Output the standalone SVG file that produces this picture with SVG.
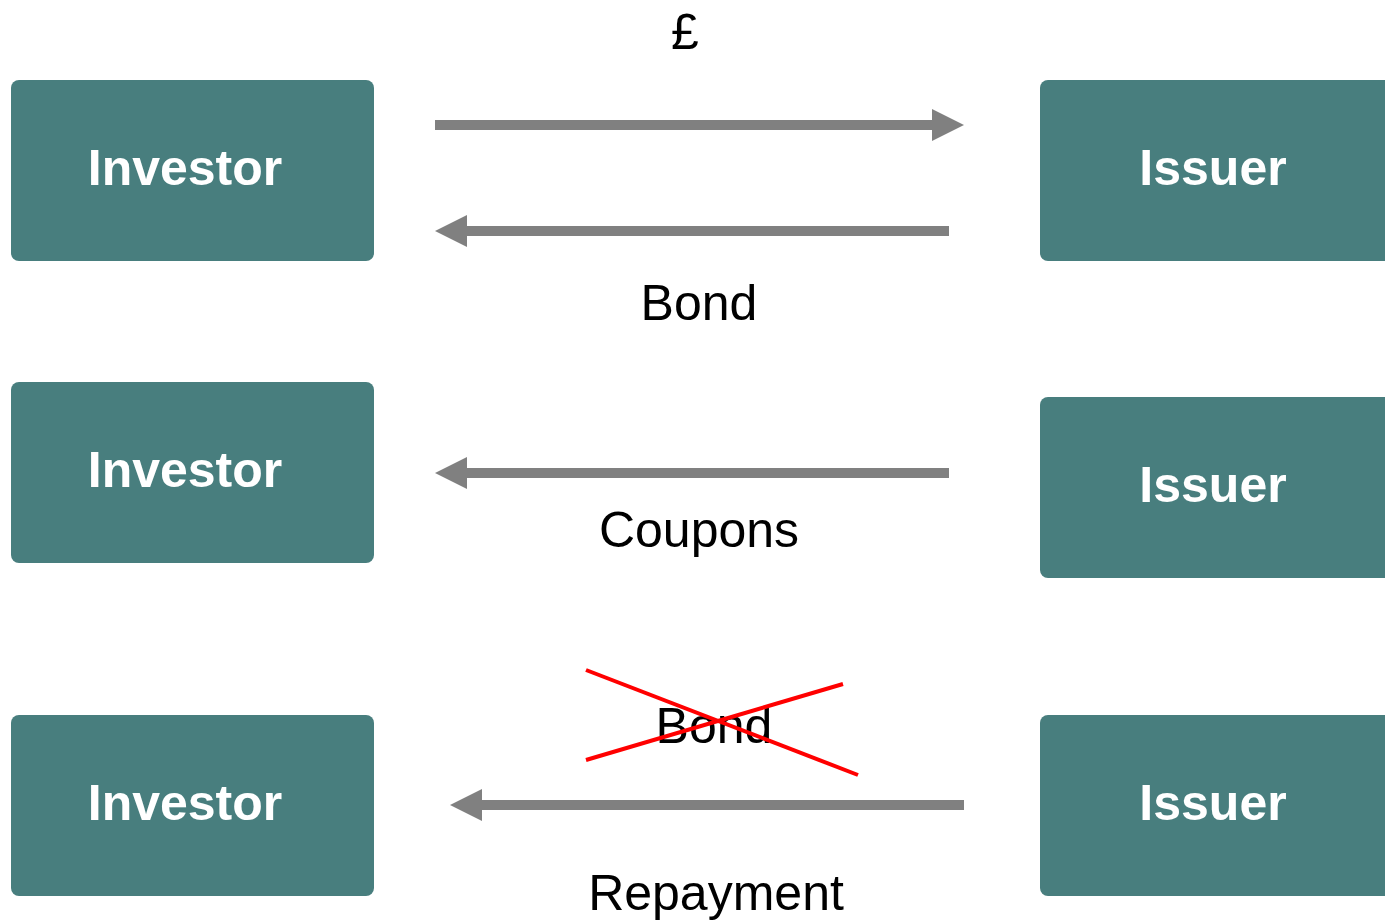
<svg xmlns="http://www.w3.org/2000/svg" width="1385" height="922" viewBox="0 0 1385 922">
<style>
.box{fill:#487e7e}
.nt{font-family:"Liberation Sans",Arial,sans-serif;font-weight:bold;font-size:50px;fill:#ffffff;text-anchor:middle}
.lb{font-family:"Liberation Sans",Arial,sans-serif;font-size:50px;fill:#000000;text-anchor:middle}
.ln{stroke:#808080;stroke-width:10;fill:none}
.hd{fill:#808080}
.x{stroke:#ff0000;stroke-width:4}
</style>
<rect width="1385" height="922" fill="#ffffff"/>
<g id="investor1"><rect class="box" x="11" y="80" width="363" height="181" rx="8"/><text class="nt" x="185" y="185">Investor</text></g>
<g id="issuer1"><rect class="box" x="1040" y="80" width="363" height="181" rx="8"/><text class="nt" x="1213" y="185">Issuer</text></g>
<g id="investor2"><rect class="box" x="11" y="382" width="363" height="181" rx="8"/><text class="nt" x="185" y="487">Investor</text></g>
<g id="issuer2"><rect class="box" x="1040" y="397" width="363" height="181" rx="8"/><text class="nt" x="1213" y="502">Issuer</text></g>
<g id="investor3"><rect class="box" x="11" y="715" width="363" height="181" rx="8"/><text class="nt" x="185" y="820">Investor</text></g>
<g id="issuer3"><rect class="box" x="1040" y="715" width="363" height="181" rx="8"/><text class="nt" x="1213" y="820">Issuer</text></g>
<g id="connectors">
<line class="ln" x1="435" y1="125" x2="934" y2="125"/><polygon class="hd" points="932,109 964,125 932,141"/>
<line class="ln" x1="949" y1="231" x2="465" y2="231"/><polygon class="hd" points="467,215 435,231 467,247"/>
<line class="ln" x1="949" y1="473" x2="465" y2="473"/><polygon class="hd" points="467,457 435,473 467,489"/>
<line class="ln" x1="964" y1="805" x2="480" y2="805"/><polygon class="hd" points="482,789 450,805 482,821"/>
</g>
<g id="labels">
<text class="lb" x="685" y="49">£</text>
<text class="lb" x="699" y="320">Bond</text>
<text class="lb" x="699" y="547">Coupons</text>
<text class="lb" x="714" y="743">Bond</text>
<text class="lb" x="716" y="910">Repayment</text>
</g>
<g id="cross">
<line class="x" x1="586" y1="670" x2="858" y2="775"/>
<line class="x" x1="586" y1="760" x2="843" y2="684"/>
</g>
</svg>
